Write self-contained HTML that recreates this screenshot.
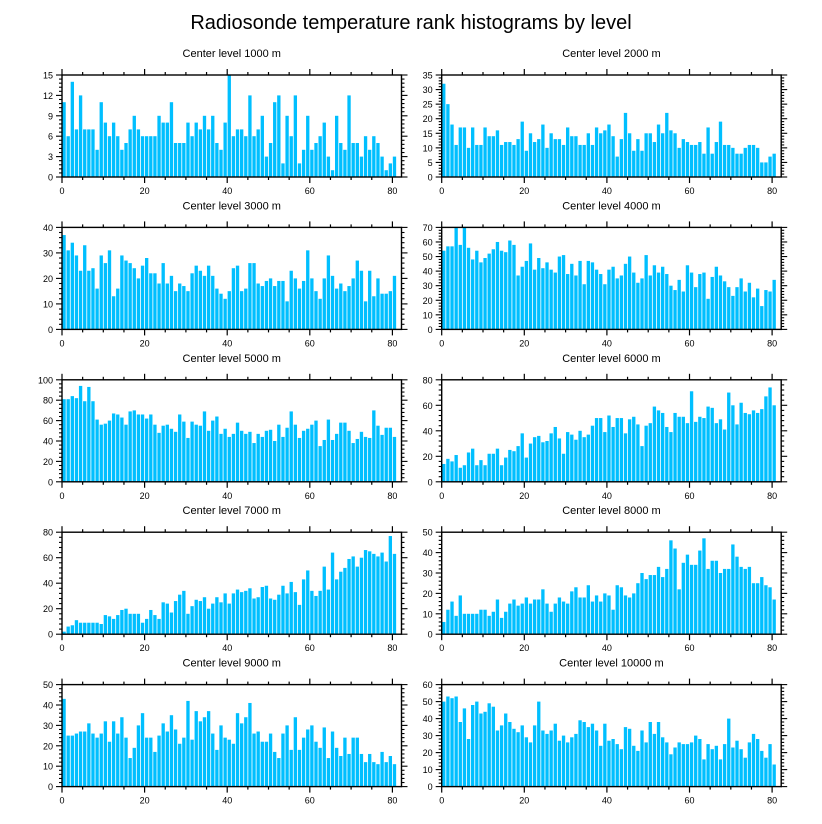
<!DOCTYPE html>
<html><head><meta charset="utf-8"><style>
body{margin:0;background:#fff;}
svg{display:block;font-family:"Liberation Sans",sans-serif;}
</style></head><body>
<svg id="chart" width="822" height="824">
<text x="411" y="29" text-anchor="middle" font-size="20">Radiosonde temperature rank histograms by level</text>
</svg>
<script>
const levels = [1000,2000,3000,4000,5000,6000,7000,8000,9000,10000];
const yMaxes = [15,35,40,70,100,80,80,50,50,60];
const yMajorSteps = [3,5,10,10,20,20,20,10,10,10];
const xTicks = [0,20,40,60,80];
const v1000 = [11,6,14,7,12,7,7,7,4,11,8,6,8,6,4,5,7,9,7,6,6,6,6,9,8,8,11,5,5,5,8,6,8,7,9,7,9,5,4,8,15,6,7,7,6,12,6,7,9,3,5,11,12,2,9,6,12,2,4,9,4,5,6,8,3,1,9,5,4,12,5,5,3,6,4,6,5,3,1,2,3];
const v2000 = [32,25,18,11,17,17,10,17,11,11,17,14,14,16,11,12,12,11,13,19,9,15,12,13,18,10,15,13,13,11,17,14,14,11,11,15,11,17,15,16,18,14,7,13,22,15,9,13,9,15,15,12,18,15,22,16,15,10,13,12,11,11,12,8,17,8,12,19,11,11,10,8,8,10,11,11,10,5,5,7,8];
const v3000 = [37,31,34,29,23,33,23,24,16,29,26,31,13,16,29,27,26,24,20,25,28,22,22,18,26,18,21,15,18,17,15,22,25,23,21,25,21,16,14,12,15,24,25,15,16,26,26,18,17,19,20,17,19,19,11,23,20,16,19,31,20,15,12,20,29,21,16,18,15,17,20,27,23,11,23,13,20,14,14,15,21];
const v4000 = [54,57,57,70,58,70,56,48,54,46,49,52,55,60,54,53,61,58,37,43,47,59,41,49,42,46,41,39,50,51,38,45,37,47,31,47,46,41,38,31,41,43,35,37,45,50,39,32,35,51,37,44,39,43,38,30,27,34,26,44,39,29,38,39,21,36,43,37,33,29,23,29,35,26,32,22,28,16,27,26,34];
const v5000 = [81,81,84,82,94,79,93,79,61,56,57,60,67,66,63,56,69,70,66,66,62,66,56,48,55,56,52,49,66,59,43,59,56,55,69,50,60,64,47,52,44,47,58,50,47,49,38,47,44,50,51,40,56,44,53,69,56,43,50,52,56,60,35,41,61,41,47,58,58,50,38,42,49,44,43,70,55,46,53,53,44];
const v6000 = [14,18,16,21,11,13,23,26,13,17,13,22,22,26,13,19,25,24,28,38,19,30,35,36,31,32,38,43,34,22,39,37,33,40,35,37,44,50,50,39,52,43,50,50,38,49,51,45,28,44,46,59,56,54,43,39,54,51,51,46,71,47,51,50,59,58,46,49,41,70,60,45,62,54,53,56,54,57,67,74,60];
const v7000 = [2,6,7,11,9,9,9,9,9,8,15,14,12,15,19,20,16,16,16,9,12,19,15,12,25,24,17,26,31,34,16,22,27,26,29,20,24,29,25,32,24,32,35,33,34,36,28,29,37,38,28,27,31,38,32,41,33,23,43,50,34,30,34,53,35,64,43,49,52,59,61,53,60,66,65,63,61,64,57,77,63];
const v8000 = [6,12,16,9,19,10,10,10,10,12,12,9,11,17,8,11,15,17,14,15,18,15,17,17,22,15,11,15,18,16,15,21,23,18,18,24,16,19,16,20,19,12,24,23,19,18,20,25,30,27,29,29,33,28,32,46,42,22,35,39,34,34,41,47,32,36,36,30,32,32,44,38,33,32,33,25,25,28,24,23,17];
const v9000 = [43,25,25,26,27,27,31,26,24,26,32,22,32,26,34,24,14,19,30,36,24,24,17,25,31,27,35,28,21,24,42,23,37,32,34,37,26,18,30,24,23,21,36,31,34,41,26,27,22,22,26,17,14,26,30,18,34,18,24,28,30,22,19,29,14,27,19,15,24,16,24,24,16,12,16,12,11,17,12,15,11];
const v10000 = [50,53,52,53,38,46,28,48,50,43,44,49,47,33,36,43,38,34,32,36,29,26,36,50,33,31,33,37,27,30,26,29,31,39,38,35,37,33,24,37,27,28,25,22,35,34,24,21,33,26,38,31,38,29,26,19,23,26,25,25,26,30,28,16,25,22,24,16,25,40,23,27,22,17,26,31,28,21,17,25,13];
const series = [v1000,v2000,v3000,v4000,v5000,v6000,v7000,v8000,v9000,v10000];

const NS = "http://www.w3.org/2000/svg";
const svg = document.getElementById('chart');
function mk(tag, attrs, parent){const e=document.createElementNS(NS,tag);for(const k in attrs)e.setAttribute(k,attrs[k]);(parent||svg).appendChild(e);return e;}
const X0 = [62, 441.7], PW = 339.5, XDOM = 82.2;
const TOP0 = 75, PITCH = 152.4, PH = 102;

series.forEach((vals, p) => {
  const col = p % 2, row = Math.floor(p / 2);
  const x0 = X0[col], top = TOP0 + row * PITCH, bot = top + PH;
  const xs = v => x0 + v / XDOM * PW;
  const ys = v => bot - v / yMaxes[p] * PH;
  const g = mk('g', {});
  
  
  const t = mk('text', {x: x0 + PW/2, y: top - 18, 'text-anchor': 'middle', 'font-size': 11}, g);
  t.textContent = 'Center level ' + levels[p] + ' m';
  
  
  vals.forEach((v, i) => {
    const r = mk('rect', {x: xs(i) + 0.4, y: ys(v), width: Math.max(0.5, xs(i+1) - xs(i) - 0.8), height: bot - ys(v), fill: '#00bfff'}, g);
    
    
  });
  // frame
  const fr = mk('rect', {x: x0, y: top, width: PW, height: PH, fill: 'none', stroke: '#000', 'stroke-width': 1.4}, g);
  
  
  // x ticks
  for (let u = 0; u <= 80; u += 5) {
    const X = xs(u), L = (u % 20 === 0) ? 6 : 3;
    mk('line', {x1: X, x2: X, y1: bot, y2: bot + L, stroke: '#000', 'stroke-width': 1.2}, g);
    mk('line', {x1: X, x2: X, y1: top, y2: top - L, stroke: '#000', 'stroke-width': 1.2}, g);
  }
  xTicks.forEach(u => {
    const tl = mk('text', {x: xs(u), y: bot + 17, 'text-anchor': 'middle', 'font-size': 9}, g);
    tl.textContent = u;
    
    
  });
  // y ticks
  const st = yMajorSteps[p], mn = st / 5;
  for (let k = 0; k <= Math.round(yMaxes[p] / mn); k++) {
    const v = k * mn, Y = ys(v), maj = (k % 5 === 0), L = maj ? 6 : 3;
    mk('line', {x1: x0, x2: x0 - L, y1: Y, y2: Y, stroke: '#000', 'stroke-width': 1.1}, g);
    mk('line', {x1: x0 + PW, x2: x0 + PW + L, y1: Y, y2: Y, stroke: '#000', 'stroke-width': 1.1}, g);
    if (maj) {
      const yl = mk('text', {x: x0 - 9, y: Y + 3.5, 'text-anchor': 'end', 'font-size': 9}, g);
      yl.textContent = Math.round(v);
      
      
    }
  }
});
</script>
</body></html>
